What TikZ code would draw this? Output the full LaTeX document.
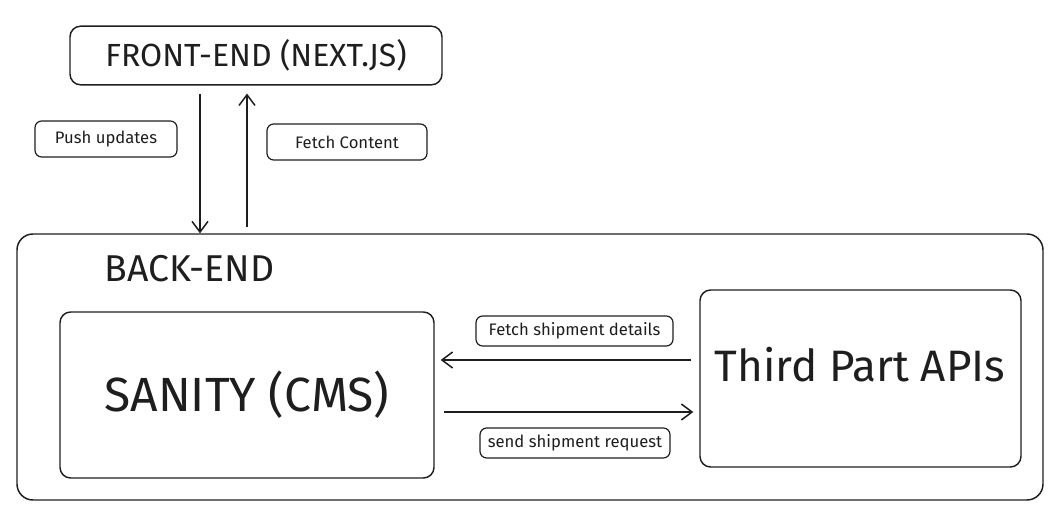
\documentclass[tikz,border=0pt]{standalone}
\usepackage{fontspec}
\setmainfont{Fira Sans}
\usetikzlibrary{arrows.meta}

\definecolor{ink}{HTML}{1E1E1E}

\begin{document}
\begin{tikzpicture}[x=0.75pt, y=-0.75pt,
  box/.style={draw=ink, text=ink, line width=1.1pt, rounded corners=8pt, inner sep=0pt},
  tag/.style={draw=ink, text=ink, line width=0.9pt, rounded corners=5pt, inner sep=0pt,
    font=\fontsize{12.5}{14}\selectfont},
  arr/.style={draw=ink, line width=1.1pt, -{Straight Barb[length=8pt, width=12pt]}}]
  \useasboundingbox (0,0) rectangle (1058,510);

  % main boxes
  \node[box, minimum width=279pt, minimum height=44pt, font=\fontsize{24}{28}\selectfont] (front) at (256,55.5) {FRONT-END (NEXT.JS)};
  \node[box, minimum width=769.5pt, minimum height=199.5pt, rounded corners=12pt] (back) at (530,367) {};
  \node[anchor=west, text=ink, font=\fontsize{28}{32}\selectfont] (backlbl) at (100,269) {BACK-END};
  \node[box, minimum width=280.5pt, minimum height=124.5pt, font=\fontsize{36}{42}\selectfont] (sanity) at (247,395) {SANITY (CMS)};
  \node[box, minimum width=240.75pt, minimum height=132.75pt] (third) at (860.5,378.5) {};
  \node[text=ink, font=\fontsize{33}{38}\selectfont] (thirdlbl) at (860,365) {Third Part APIs};

  % little labels
  \node[tag, minimum width=106.5pt, minimum height=27pt] (push) at (106,139) {Push updates};
  \node[tag, minimum width=120pt, minimum height=27pt] (fetch) at (347,142) {Fetch Content};
  \node[tag, minimum width=147.75pt, minimum height=22.5pt] (details) at (574.5,331) {Fetch shipment details};
  \node[tag, minimum width=142.5pt, minimum height=22.5pt] (request) at (575,443) {send shipment request};

  % arrows
  \coordinate (downx) at (200,0);
  \coordinate (upx) at (247,0);
  \coordinate (lefty) at (0,360);
  \coordinate (righty) at (0,412);
  \draw[arr, shorten <=6pt] (front.south -| downx) -- (back.north -| downx);
  \draw[arr, shorten <=4.5pt, shorten >=6pt] (back.north -| upx) -- (front.south -| upx);
  \draw[arr, shorten <=6pt, shorten >=4.5pt] (third.west |- lefty) -- (sanity.east |- lefty);
  \draw[arr, shorten <=7pt, shorten >=4.5pt] (sanity.east |- righty) -- (third.west |- righty);
\end{tikzpicture}
\end{document}
